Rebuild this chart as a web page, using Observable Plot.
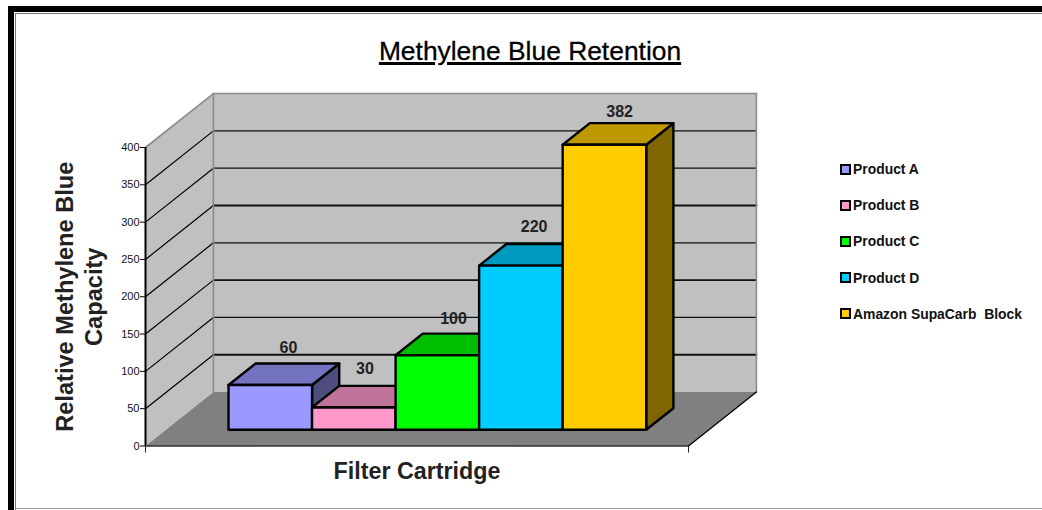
<!DOCTYPE html>
<html>
<head>
<meta charset="utf-8">
<script src="https://cdn.jsdelivr.net/npm/d3@7"></script>
<script src="https://cdn.jsdelivr.net/npm/@observablehq/plot@0.6"></script>
<style>
  html, body { margin: 0; padding: 0; background: #fff; overflow: hidden; }
  #page { position: relative; width: 1042px; height: 510px; overflow: hidden; font-family: "Liberation Sans", Arial, sans-serif; }
  #chart svg { display: block; position: absolute; left: 0; top: 0; overflow: visible; background: transparent; }
  #frame { position: absolute; left: 8px; top: 6px; width: 1100px; height: 600px; border-left: 6px solid #000; border-top: 6px solid #000; }
  #frame::after { content: ""; position: absolute; left: 1px; top: 1px; right: 0; bottom: 0; border-left: 1px solid #777; border-top: 1px solid #777; }
  #bottom { position: absolute; left: 15px; right: 0; top: 508px; height: 1px; background: #999; }
  #title { position: absolute; left: 330px; width: 400px; top: 36px; text-align: center; font-size: 26.4px; line-height: 30px; color: #000;
           text-decoration: underline; text-decoration-thickness: 3px; text-underline-offset: 2px; -webkit-text-stroke: 0.3px #000; }
  #legend { position: absolute; left: 840px; top: 151px; }
  .row { height: 36.2px; display: flex; align-items: center; white-space: pre; font-size: 13.9px; font-weight: bold; color: #111; }
  .sw { width: 7px; height: 7px; border: 2px solid #000; margin-right: 2px; flex: none; }
</style>
</head>
<body>
<div id="page">
  <div id="frame"></div>
  <div id="bottom"></div>
  <div id="chart"></div>
  <div id="title">Methylene Blue Retention</div>
  <div id="legend"></div>
</div>
<script>
const products = ["Product A", "Product B", "Product C", "Product D", "Amazon SupaCarb  Block"];
const values = [60, 30, 100, 220, 382];
const frontColors = ["#9999ff", "#ff99cc", "#00ff00", "#00ccff", "#ffcc00"];
const topColors = ["#7373bf", "#bf7399", "#00bf00", "#0099bf", "#bf9900"];
const sideColors = ["#4d4d80", "#804d66", "#008000", "#006680", "#806600"];
const yTicks = [0, 50, 100, 150, 200, 250, 300, 350, 400];
const xDomain = [-0.75, 5.75];
const yDomain = [0, 400];

// oblique projection: how far one full floor depth shifts a point, in data units
const depthX = 0.813, depthY = 72.3;
const nearZ = 0.3, farZ = 0.7;
const P = (x, v, z = 0) => ({x: x + z * depthX, y: v + z * depthY});
const [x0, x1] = xDomain, [y0, y1] = yDomain;

// hand-placed label offsets of the original, in pixels
const labelDx = [-9, -16, -11, -14, -12];
const labelDy = [-16, -17, -15, -17, -11];

const face = (pts, fill, stroke = "none", strokeWidth = 1) =>
  Plot.line(pts, {x: "x", y: "y", fill, stroke, strokeWidth, curve: "linear-closed", strokeLinejoin: "round"});
const seg = (a, b, stroke, strokeWidth) =>
  Plot.line([a, b], {x: "x", y: "y", stroke, strokeWidth});

const gridWeight = v => (v === 50 || v === 250) ? 2.2 : v === 150 ? 1.7 : 1.3;

const marks = [
  // walls and floor
  face([P(x0, y0, 1), P(x1, y0, 1), P(x1, y1, 1), P(x0, y1, 1)], "#c0c0c0"),
  face([P(x0, y0, 0), P(x0, y0, 1), P(x0, y1, 1), P(x0, y1, 0)], "#c0c0c0"),
  face([P(x0, y0, 0), P(x1, y0, 0), P(x1, y0, 1), P(x0, y0, 1)], "#808080"),
  // gridlines
  ...yTicks.filter(v => v > 0 && v < y1).flatMap(v => [
    seg(P(x0, v, 0), P(x0, v, 1), "#000", 1.2),
    seg(P(x0, v, 1), P(x1, v, 1), "#111", gridWeight(v))
  ]),
  // wall edges
  seg(P(x0, y1, 0), P(x0, y1, 1), "#8c8c8c", 1.6),
  seg(P(x0, y1, 1), P(x1, y1, 1), "#8c8c8c", 1.6),
  seg(P(x0, y0, 1), P(x0, y1, 1), "#8c8c8c", 1.6),
  seg(P(x1, y0, 1), P(x1, y1, 1), "#8c8c8c", 1.6),
  seg(P(x0, y0, 0), P(x1, y0, 0), "#333", 1.5),
  seg(P(x1, y0, 0), P(x1, y0, 1), "#000", 1.3),
  // bars, left to right
  ...values.flatMap((v, i) => [
    face([P(i + 1, 0, nearZ), P(i + 1, 0, farZ), P(i + 1, v, farZ), P(i + 1, v, nearZ)], sideColors[i], "#000", 2.4),
    face([P(i, v, nearZ), P(i + 1, v, nearZ), P(i + 1, v, farZ), P(i, v, farZ)], topColors[i], "#000", 2.4),
    face([P(i, 0, nearZ), P(i + 1, 0, nearZ), P(i + 1, v, nearZ), P(i, v, nearZ)], frontColors[i], "#000", 2.4)
  ]),
  // value labels
  ...values.map((v, i) => Plot.text([{...P(i + 0.5, v, farZ), v}], {
    x: "x", y: "y", text: d => String(d.v), dx: labelDx[i], dy: labelDy[i],
    fontSize: 16, fontWeight: "bold", fill: "#222"
  })),
  // axes
  Plot.ruleX([x0], {y1: y0, y2: y1, stroke: "#000", strokeWidth: 2}),
  Plot.axisY(yTicks, {tickSize: 5, tickPadding: 1, fontSize: 11, label: null, stroke: "#000", fill: "#111"}),
  Plot.axisX(xDomain, {tickSize: 7, tickFormat: () => "", label: null, stroke: "#222"}),
  // axis titles
  Plot.text(["Relative Methylene Blue"], {frameAnchor: "left", textAnchor: "middle", rotate: -90, dx: -80, fontSize: 23.6, fontWeight: "bold", fill: "#222"}),
  Plot.text(["Capacity"], {frameAnchor: "left", textAnchor: "middle", rotate: -90, dx: -51, fontSize: 23.6, fontWeight: "bold", fill: "#222"}),
  Plot.text(["Filter Cartridge"], {frameAnchor: "bottom", dy: 33, fontSize: 23.3, fontWeight: "bold", fill: "#222"})
];

const svg = Plot.plot({
  width: 1042, height: 510,
  marginLeft: 145, marginRight: 354, marginTop: 147, marginBottom: 64.5,
  style: {fontFamily: '"Liberation Sans", Arial, sans-serif', background: "transparent", overflow: "visible"},
  x: {type: "linear", domain: xDomain},
  y: {type: "linear", domain: yDomain},
  marks
});
document.getElementById("chart").append(svg);

const legend = document.getElementById("legend");
products.forEach((name, i) => {
  const row = document.createElement("div");
  row.className = "row";
  const sw = document.createElement("span");
  sw.className = "sw";
  sw.style.background = frontColors[i];
  const label = document.createElement("span");
  label.textContent = name;
  row.append(sw, label);
  legend.append(row);
});
</script>
</body>
</html>
